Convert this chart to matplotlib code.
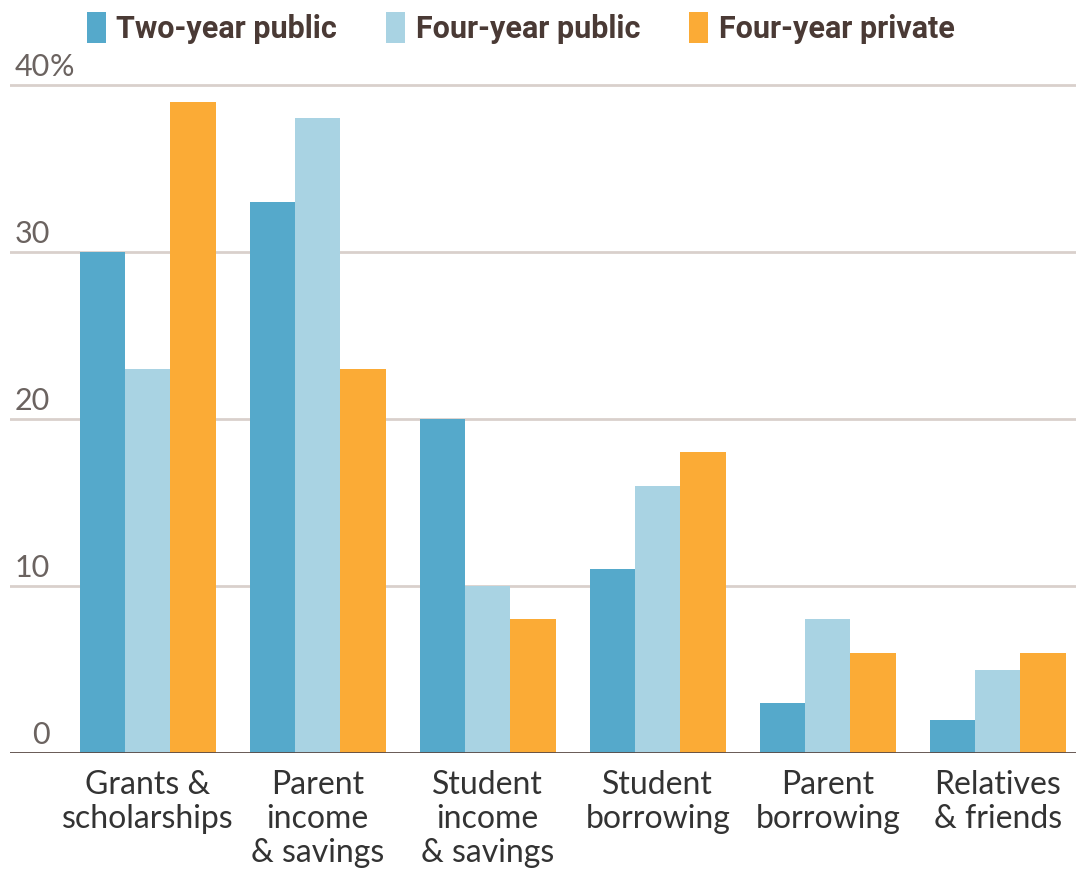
import matplotlib
matplotlib.use("Agg")
import matplotlib.pyplot as plt
import numpy as np

categories = ["Grants &\nscholarships", "Parent\nincome\n& savings", "Student\nincome\n& savings",
              "Student\nborrowing", "Parent\nborrowing", "Relatives\n& friends"]
series_names = ["Two-year public", "Four-year public", "Four-year private"]
two_year_public = [30, 33, 20, 11, 3, 2]
four_year_public = [23, 38, 10, 16, 8, 5]
four_year_private = [39, 23, 8, 18, 6, 6]
y_ticks = [0, 10, 20, 30, 40]

colors = ["#55a9cb", "#a9d3e3", "#fbab36"]
label_font = ["Lato", "DejaVu Sans"]
legend_font = ["Roboto", "DejaVu Sans"]

fig = plt.figure(figsize=(10.76, 8.74), dpi=100)
ax = fig.add_axes([10/1076, (874-753)/874, 1 - 10/1076, (753-75)/874])

x = np.arange(len(categories))
w = 0.267
data = [two_year_public, four_year_public, four_year_private]
handles = []
for i, (vals, c, name) in enumerate(zip(data, colors, series_names)):
    b = ax.bar(x + (i - 1) * w, vals, width=w, color=c, label=name, zorder=3, linewidth=0)
    handles.append(b)

ax.set_xlim(-0.81, 5.46)
ax.set_ylim(0, 40.6)

for v in y_ticks[1:]:
    ax.axhline(v, color="#d9d0cc", lw=2, zorder=1)
ax.axhline(0, color="#5a4a45", lw=2, zorder=4)

for v in y_ticks:
    ax.text(-0.576, v + 0.25, str(v), ha="right", va="bottom", fontsize=22,
            color="#6b6360", family=label_font, zorder=5)
ax.text(-0.576, y_ticks[-1] + 0.25, "%", ha="left", va="bottom", fontsize=22,
        color="#6b6360", family=label_font, zorder=5)

ax.set_xticks(x)
ax.set_xticklabels(categories, fontsize=23, color="#333333", family=label_font,
                   linespacing=1.18)
ax.tick_params(axis="x", length=0, pad=12)
ax.set_yticks([])
for s in ax.spines.values():
    s.set_visible(False)

leg = fig.legend(handles=handles, labels=series_names, loc="upper left",
                 bbox_to_anchor=(70/1076, 1.0 + 5/874), ncol=3, frameon=False, borderaxespad=0.15,
                 handlelength=0.62, handleheight=1.2, handletextpad=0.35,
                 columnspacing=1.6, prop={"family": legend_font, "weight": "bold", "size": 22})
for t in leg.get_texts():
    t.set_color("#4a3a35")

fig.savefig("out.png", dpi=100)
